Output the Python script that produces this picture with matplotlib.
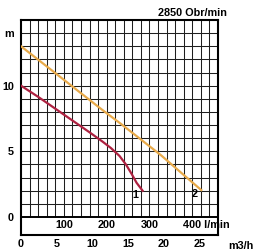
import numpy as np
import matplotlib
matplotlib.use("Agg")
import matplotlib.pyplot as plt

plt.rcParams['font.family'] = ['Liberation Sans', 'DejaVu Sans']
plt.rcParams['font.weight'] = 'bold'

# pump curves, flow in l/min, head in m
q1 = [0, 40, 80, 120, 160, 190, 210, 230, 245, 258, 270, 284]
h1 = [10, 9.15, 8.25, 7.35, 6.45, 5.75, 5.25, 4.65, 4.0, 3.3, 2.6, 2.0]
q2 = [0, 100, 190, 233, 280, 327, 380, 421]
h2 = [13, 10.45, 8.15, 7.1, 5.9, 4.7, 3.2, 2.05]

lmin_ticks = [100, 200, 300]
m3h_ticks = [0, 5, 10, 15, 20, 25]
head_ticks = [0, 5, 10]
speed = "2850 Obr/min"

fs = 7.8
fig = plt.figure(figsize=(2.56, 2.52), dpi=100)
ax = fig.add_axes([21/256, 1-235/252, 197/256, 215/252])
ax.set_xlim(0, 460)
ax.set_ylim(-1.37, 15)

# grid only above zero
ax.vlines(np.arange(20, 460, 20), 0, 15, color='#1e1e1e', lw=0.75, zorder=1)
ax.hlines(np.arange(1, 15, 1), 0, 460, color='#1e1e1e', lw=0.75, zorder=1)
ax.hlines(0, 0, 460, color='black', lw=1.4, zorder=2)

ax.plot(q1, h1, color='#ad2140', lw=1.6, zorder=3)
ax.plot(q2, h2, color='#e8aa4a', lw=1.6, zorder=3)
ax.text(266, 1.7, '1', fontsize=fs, ha='center', va='center', zorder=4)
ax.text(406, 1.75, '2', fontsize=fs, ha='center', va='center', zorder=4)

for s in ax.spines.values():
    s.set_linewidth(1.5)

ax.set_xticks([])
ax.set_yticks(head_ticks + [14], [str(v) for v in head_ticks] + ['m'], fontsize=fs)
ax.tick_params(axis='y', length=0, pad=5)

for v in lmin_ticks:
    ax.text(v, -0.62, str(v), fontsize=fs, ha='center', va='center')
ax.text(378, -0.62, '400 l/min', fontsize=fs, ha='left', va='center')

sec = ax.secondary_xaxis('bottom', functions=(lambda x: x * 60 / 1000, lambda x: x * 1000 / 60))
sec.set_xticks(m3h_ticks, [str(v) for v in m3h_ticks], fontsize=fs)
sec.tick_params(length=0, pad=3)
sec.spines['bottom'].set_visible(False)

ax.text(1.117, -0.05, 'm3/h', transform=ax.transAxes, fontsize=fs, ha='center', va='center')
ax.text(0.871, 1.033, speed, transform=ax.transAxes, fontsize=fs, ha='center', va='center')

fig.savefig('out.png', dpi=100)
